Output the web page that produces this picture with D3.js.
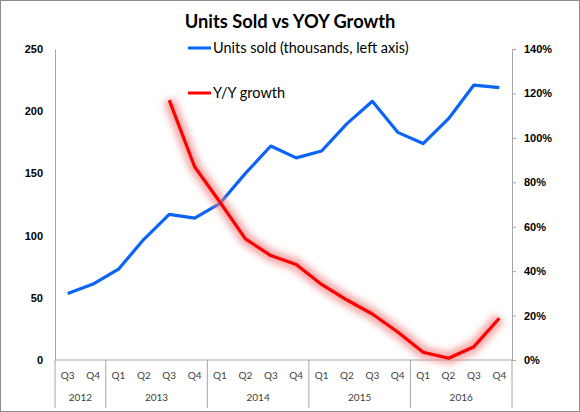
<!DOCTYPE html>
<html>
<head>
<meta charset="utf-8">
<script src="https://cdn.jsdelivr.net/npm/d3@7"></script>
<style>
  body { margin: 0; background: #fff; }
  svg { display: block; font-family: Lato, "Open Sans", sans-serif; }
</style>
</head>
<body>
<div id="chart"></div>
<script>
// Chart data
const quarters = ['Q3', 'Q4', 'Q1', 'Q2', 'Q3', 'Q4', 'Q1', 'Q2', 'Q3', 'Q4',
                  'Q1', 'Q2', 'Q3', 'Q4', 'Q1', 'Q2', 'Q3', 'Q4'];
const years = [
    { year: '2012', count: 2 },
    { year: '2013', count: 4 },
    { year: '2014', count: 4 },
    { year: '2015', count: 4 },
    { year: '2016', count: 4 }
];
const unitsSold = [53.5, 61, 73, 97, 117, 114, 126, 150, 172, 162.5,
                   168, 190, 208, 183, 174, 194, 221, 219];
const yoyGrowth = [null, null, null, null, 117, 87, 71, 54.5, 47, 43,
                   34, 27, 20.7, 12.6, 3.5, 0.8, 6, 18.8];
const leftTicks = [0, 50, 100, 150, 200, 250];
const rightTicks = [0, 20, 40, 60, 80, 100, 120, 140];

const width = 580, height = 412;
const margin = { top: 49, right: 68, bottom: 52, left: 55 };

const svg = d3.select('#chart').append('svg')
    .attr('width', width)
    .attr('height', height);

// outer border
svg.append('rect')
    .attr('x', 0.5).attr('y', 0.5)
    .attr('width', width - 1).attr('height', height - 1)
    .attr('fill', '#fff')
    .attr('stroke', '#8c8c8c');

const x = d3.scaleBand()
    .domain(d3.range(quarters.length))
    .range([margin.left, width - margin.right])
    .paddingInner(0).paddingOuter(0);

const yLeft = d3.scaleLinear().domain([0, 250]).range([height - margin.bottom, margin.top]);
const yRight = d3.scaleLinear().domain([0, 140]).range([height - margin.bottom, margin.top]);

const axisColor = '#a6a6a6';
const baseY = height - margin.bottom;

// left axis (line only, no ticks)
const leftAxis = svg.append('g')
    .attr('transform', `translate(${margin.left},0)`)
    .call(d3.axisLeft(yLeft).tickValues(leftTicks).tickSize(0).tickPadding(12));
leftAxis.select('.domain').attr('stroke', axisColor);
leftAxis.selectAll('text')
    .attr('font-size', 11).attr('font-weight', 'bold').attr('fill', '#000');

// right axis with outward ticks
const rightAxis = svg.append('g')
    .attr('transform', `translate(${width - margin.right},0)`)
    .call(d3.axisRight(yRight).tickValues(rightTicks).tickSizeInner(4).tickSizeOuter(4)
        .tickPadding(8).tickFormat(d => d + '%'));
rightAxis.selectAll('.domain, line').attr('stroke', axisColor);
rightAxis.selectAll('text')
    .attr('font-size', 11).attr('font-weight', 'bold').attr('fill', '#000');

// x axis baseline
svg.append('line')
    .attr('x1', margin.left).attr('x2', width - margin.right)
    .attr('y1', baseY).attr('y2', baseY)
    .attr('stroke', axisColor);

// quarter labels
svg.selectAll('.qlabel')
    .data(quarters)
    .enter()
    .append('text')
    .attr('class', 'qlabel')
    .attr('x', (d, i) => x(i) + x.bandwidth() / 2)
    .attr('y', baseY + 19)
    .attr('text-anchor', 'middle')
    .attr('font-size', 10)
    .attr('fill', '#404040')
    .text(d => d);

// year groups, separators and labels
let start = 0;
const yearSpans = years.map(d => {
    const s = { year: d.year, start: start, end: start + d.count };
    start += d.count;
    return s;
});
const sepIdx = [0].concat(yearSpans.map(d => d.end));
svg.selectAll('.sep')
    .data(sepIdx)
    .enter()
    .append('line')
    .attr('class', 'sep')
    .attr('x1', d => d < quarters.length ? x(d) : x.range()[1])
    .attr('x2', d => d < quarters.length ? x(d) : x.range()[1])
    .attr('y1', baseY)
    .attr('y2', baseY + 48)
    .attr('stroke', axisColor);

svg.selectAll('.ylabel')
    .data(yearSpans)
    .enter()
    .append('text')
    .attr('class', 'ylabel')
    .attr('x', d => (x(d.start) + (d.end < quarters.length ? x(d.end) : x.range()[1])) / 2)
    .attr('y', baseY + 41)
    .attr('text-anchor', 'middle')
    .attr('font-size', 10)
    .attr('fill', '#404040')
    .text(d => d.year);

// glow filter for growth line
const defs = svg.append('defs');
const glow = defs.append('filter')
    .attr('id', 'glow')
    .attr('x', '-20%').attr('y', '-20%')
    .attr('width', '140%').attr('height', '140%');
glow.append('feGaussianBlur')
    .attr('stdDeviation', 3.5);

const cx = i => x(i) + x.bandwidth() / 2;

const unitsLine = d3.line()
    .x((d, i) => cx(i))
    .y(d => yLeft(d));

svg.append('path')
    .datum(unitsSold)
    .attr('fill', 'none')
    .attr('stroke', '#0a64f5')
    .attr('stroke-width', 3.2)
    .attr('stroke-linejoin', 'round')
    .attr('d', unitsLine);

const growthLine = d3.line()
    .defined(d => d !== null)
    .x((d, i) => cx(i))
    .y(d => yRight(d));

svg.append('path')
    .datum(yoyGrowth)
    .attr('fill', 'none')
    .attr('stroke', '#f08080')
    .attr('stroke-opacity', 0.7)
    .attr('stroke-width', 12)
    .attr('stroke-linejoin', 'round')
    .attr('filter', 'url(#glow)')
    .attr('d', growthLine);

svg.append('path')
    .datum(yoyGrowth)
    .attr('fill', 'none')
    .attr('stroke', '#ff0000')
    .attr('stroke-width', 3.2)
    .attr('stroke-linejoin', 'round')
    .attr('d', growthLine);

// title
svg.append('text')
    .attr('x', 290)
    .attr('y', 28)
    .attr('text-anchor', 'middle')
    .attr('font-size', 18.3)
    .attr('font-weight', 'bold')
    .attr('fill', '#000')
    .text('Units Sold vs YOY Growth');

// legend
const legend = [
    { label: 'Units sold (thousands, left axis)', color: '#0a64f5', y: 48 },
    { label: 'Y/Y growth', color: '#ff0000', y: 93 }
];
const lg = svg.selectAll('.legend')
    .data(legend)
    .enter()
    .append('g')
    .attr('class', 'legend');
lg.append('line')
    .attr('x1', 188).attr('x2', 211)
    .attr('y1', d => d.y).attr('y2', d => d.y)
    .attr('stroke', d => d.color)
    .attr('stroke-width', 3);
lg.append('text')
    .attr('x', 213)
    .attr('y', d => d.y + 5)
    .attr('font-size', 14.5)
    .attr('fill', '#000')
    .text(d => d.label);
</script>
</body>
</html>
